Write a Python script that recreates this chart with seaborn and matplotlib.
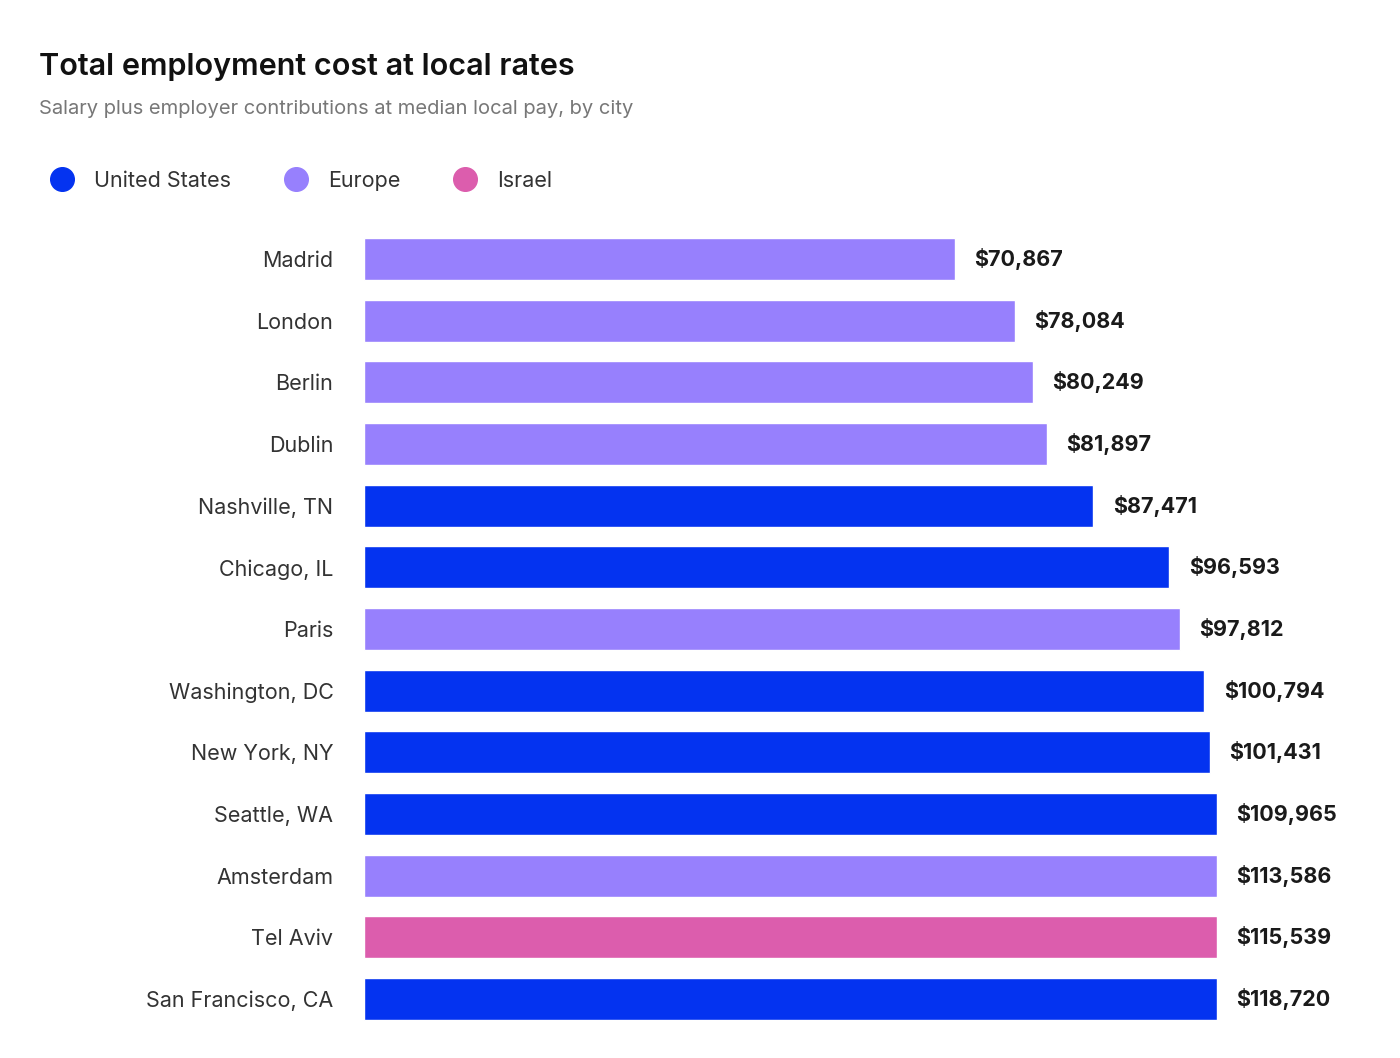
import numpy as np
import pandas as pd
import matplotlib
matplotlib.use("Agg")
import matplotlib.pyplot as plt
from matplotlib.lines import Line2D
import seaborn as sns

cities = ["Madrid", "London", "Berlin", "Dublin", "Nashville, TN", "Chicago, IL", "Paris",
          "Washington, DC", "New York, NY", "Seattle, WA", "Amsterdam", "Tel Aviv", "San Francisco, CA"]
costs = [70867, 78084, 80249, 81897, 87471, 96593, 97812,
         100794, 101431, 109965, 113586, 115539, 118720]
regions = ["Europe", "Europe", "Europe", "Europe", "United States", "United States", "Europe",
           "United States", "United States", "United States", "Europe", "Israel", "United States"]
palette = {"United States": "#0433f0", "Europe": "#9780fd", "Israel": "#dc5dad"}

# the source chart caps the bar length around this value
cap = 102300

df = pd.DataFrame({"city": cities, "cost": costs, "region": regions})
df["shown"] = np.minimum(df["cost"], cap)

sns.set_style("white")
plt.rcParams["font.family"] = ["Inter", "DejaVu Sans"]

fig = plt.figure(figsize=(14, 10.58), dpi=100)
ax = fig.add_axes([0.26, 0.0265, 0.6093, 0.758])
sns.barplot(data=df, y="city", x="shown", hue="region", palette=palette,
            dodge=False, width=0.68, legend=False, ax=ax, saturation=1)
ax.set_xlim(0, cap)
ax.set_xlabel("")
ax.set_ylabel("")
ax.set_xticks([])
ax.tick_params(axis="y", length=0, pad=22, labelsize=15.5, labelcolor="#333333")
sns.despine(ax=ax, left=True, bottom=True)

for i, row in df.iterrows():
    ax.annotate(f"${row['cost']:,}", (row["shown"], i), xytext=(14, 0),
                textcoords="offset points", va="center", ha="left",
                fontsize=15.5, fontweight="bold", color="#1a1a1a", annotation_clip=False)

fig.text(0.028, 0.937, "Total employment cost at local rates", fontsize=22,
         fontweight="semibold", color="#111111", va="center")
fig.text(0.028, 0.897, "Salary plus employer contributions at median local pay, by city",
         fontsize=14.5, color="#777777", va="center")

handles = [Line2D([], [], marker="o", linestyle="", markersize=17, color=c) for c in palette.values()]
fig.legend(handles, list(palette.keys()), loc="center left", bbox_to_anchor=(0.015, 0.829),
           ncol=3, frameon=False, fontsize=15.5, handletextpad=0.5, columnspacing=2.0,
           labelcolor="#333333")

fig.savefig("out.png", dpi=100)
